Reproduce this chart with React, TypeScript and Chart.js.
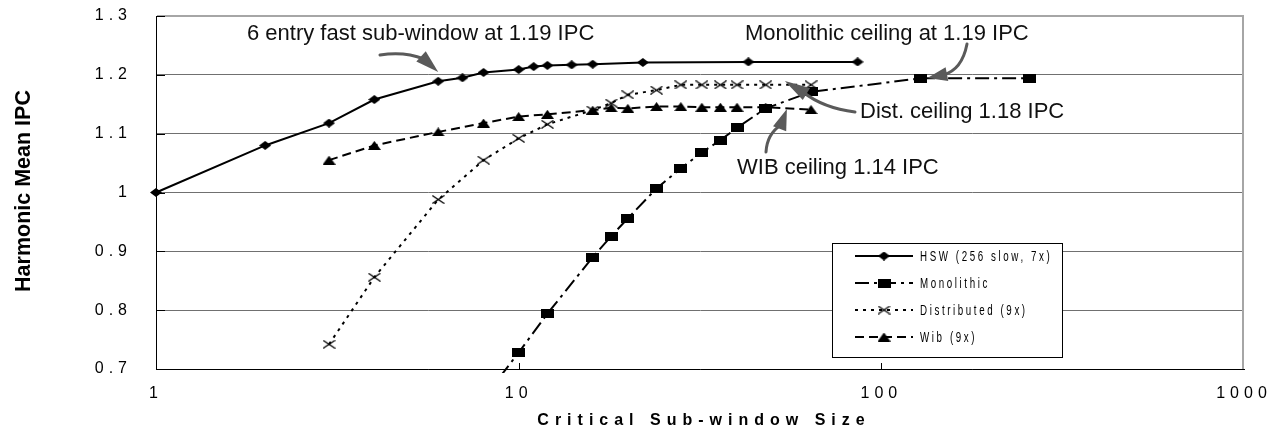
import { useEffect, useRef } from "react";
import { Chart, registerables } from "chart.js";

Chart.register(...registerables);

// Critical sub-window size (x, log scale) against harmonic mean IPC (y)
const hswSizes = [1, 2, 3, 4, 6, 7, 8, 10, 11, 12, 14, 16, 22, 43, 86];
const hswIpc = [1.0, 1.08, 1.118, 1.158, 1.189, 1.195, 1.204, 1.209, 1.214, 1.216, 1.217, 1.218, 1.221, 1.222, 1.222];

const monoSizes = [8, 10, 12, 16, 18, 20, 24, 28, 32, 36, 40, 48, 64, 128, 256];
const monoIpc = [0.65, 0.728, 0.794, 0.89, 0.926, 0.956, 1.007, 1.041, 1.068, 1.089, 1.11, 1.143, 1.171, 1.194, 1.194];

const distSizes = [3, 4, 6, 8, 10, 12, 16, 18, 20, 24, 28, 32, 36, 40, 48, 64];
const distIpc = [0.742, 0.856, 0.988, 1.055, 1.092, 1.116, 1.14, 1.152, 1.166, 1.174, 1.183, 1.183, 1.183, 1.183, 1.183, 1.183];

const wibSizes = [3, 4, 6, 8, 10, 12, 16, 18, 20, 24, 28, 32, 36, 40, 48, 64];
const wibIpc = [1.055, 1.08, 1.103, 1.118, 1.129, 1.133, 1.14, 1.144, 1.143, 1.146, 1.146, 1.145, 1.145, 1.145, 1.145, 1.141];

const xTickValues = [1, 10, 100, 1000];
const yTickValues = [0.7, 0.8, 0.9, 1.0, 1.1, 1.2, 1.3];

const seriesNames = ["HSW (256 slow, 7x)", "Monolithic", "Distributed (9x)", "Wib (9x)"];

// Callouts: text plus the (size, IPC) point each arrow points at
const callouts = [
  { text: "6 entry fast sub-window at 1.19 IPC", at: [6, 1.205] },
  { text: "Monolithic ceiling at 1.19 IPC", at: [134, 1.1946] },
  { text: "Dist. ceiling 1.18 IPC", at: [54.2, 1.1895] },
  { text: "WIB ceiling 1.14 IPC", at: [54.9, 1.142] },
];

const FONT = '"Liberation Sans", Arial, Helvetica, sans-serif';

function makeMarker(kind: string, w: number, h: number): HTMLCanvasElement {
  const c = document.createElement("canvas");
  c.width = w;
  c.height = h;
  const g = c.getContext("2d")!;
  g.fillStyle = "#000";
  g.strokeStyle = "#000";
  g.beginPath();
  if (kind === "diamond") {
    g.moveTo(w / 2, 0);
    g.lineTo(w, h / 2);
    g.lineTo(w / 2, h);
    g.lineTo(0, h / 2);
    g.closePath();
    g.fill();
  } else if (kind === "rect") {
    g.fillRect(0, 0, w, h);
  } else if (kind === "cross") {
    g.lineWidth = 1.3;
    g.moveTo(0.5, 0.5);
    g.lineTo(w - 0.5, h - 0.5);
    g.moveTo(w - 0.5, 0.5);
    g.lineTo(0.5, h - 0.5);
    g.stroke();
  } else {
    g.moveTo(w / 2, 0);
    g.lineTo(w, h);
    g.lineTo(0, h);
    g.closePath();
    g.fill();
  }
  return c;
}

function toPoints(xs: number[], ys: number[]) {
  return xs.map((x, i) => ({ x, y: ys[i] }));
}

function drawArrow(ctx: CanvasRenderingContext2D, sx: number, sy: number, cx: number, cy: number, ex: number, ey: number, tx: number, ty: number) {
  ctx.save();
  ctx.strokeStyle = "#5a5a5a";
  ctx.fillStyle = "#5a5a5a";
  ctx.lineWidth = 3;
  ctx.lineCap = "round";
  ctx.beginPath();
  ctx.moveTo(sx, sy);
  ctx.quadraticCurveTo(cx, cy, ex, ey);
  ctx.stroke();
  // arrow head from (ex, ey) to the tip
  const ang = Math.atan2(ty - ey, tx - ex);
  const len = Math.hypot(tx - ex, ty - ey) + 4;
  const half = 7;
  const bx = tx - Math.cos(ang) * len;
  const by = ty - Math.sin(ang) * len;
  ctx.beginPath();
  ctx.moveTo(tx, ty);
  ctx.lineTo(bx + Math.cos(ang + Math.PI / 2) * half, by + Math.sin(ang + Math.PI / 2) * half);
  ctx.lineTo(bx - Math.cos(ang + Math.PI / 2) * half, by - Math.sin(ang + Math.PI / 2) * half);
  ctx.closePath();
  ctx.fill();
  ctx.restore();
}

export default function App() {
  const ref = useRef<HTMLCanvasElement>(null);

  useEffect(() => {
    const markers = [
      makeMarker("diamond", 12, 9),
      makeMarker("rect", 13, 9),
      makeMarker("cross", 13, 9),
      makeMarker("triangle", 13, 9),
    ];
    const dashes = [[], [14, 5, 3, 5], [3, 5], [9, 5]];
    const widths = [2, 2, 2, 2];

    const extras = {
      id: "extras",
      beforeDraw(chart: any) {
        chart.ctx.letterSpacing = "0px";
      },
      beforeDatasetsDraw(chart: any) {
        const { ctx, chartArea: a, scales } = chart;
        ctx.save();
        // right frame edge
        ctx.strokeStyle = "#a6a6a6";
        ctx.lineWidth = 2;
        ctx.beginPath();
        ctx.moveTo(a.right - 1, a.top - 1);
        ctx.lineTo(a.right - 1, a.bottom);
        ctx.stroke();
        // inside tick marks
        ctx.strokeStyle = "#000";
        ctx.lineWidth = 1;
        ctx.beginPath();
        for (const v of yTickValues) {
          const y = Math.round(scales.y.getPixelForValue(v)) + 0.5;
          ctx.moveTo(a.left, y);
          ctx.lineTo(a.left + 9, y);
        }
        for (const v of xTickValues.slice(1, -1)) {
          const x = Math.round(scales.x.getPixelForValue(v)) + 0.5;
          ctx.moveTo(x, a.bottom);
          ctx.lineTo(x, a.bottom - 6);
        }
        ctx.stroke();
        ctx.restore();
      },
      afterDatasetsDraw(chart: any) {
        chart.ctx.letterSpacing = "5px";
      },
      afterDraw(chart: any) {
        const { ctx, scales } = chart;
        ctx.save();
        ctx.letterSpacing = "0px";

        // legend
        const lx = 832, ly = 243, lw = 230, lh = 114;
        ctx.fillStyle = "#fff";
        ctx.fillRect(lx, ly, lw, lh);
        ctx.strokeStyle = "#000";
        ctx.lineWidth = 1;
        ctx.strokeRect(lx + 0.5, ly + 0.5, lw, lh);
        const rows = [256, 283, 310, 337];
        seriesNames.forEach((name, i) => {
          const y = rows[i];
          ctx.save();
          ctx.strokeStyle = "#000";
          ctx.lineWidth = widths[i];
          ctx.setLineDash(dashes[i]);
          ctx.beginPath();
          ctx.moveTo(855, y);
          ctx.lineTo(913, y);
          ctx.stroke();
          ctx.restore();
          const m = markers[i];
          ctx.drawImage(m, 884 - m.width / 2, y - m.height / 2);
          // narrow, spaced legend lettering
          ctx.save();
          ctx.letterSpacing = "4px";
          ctx.fillStyle = "#000";
          ctx.font = `15px ${FONT}`;
          ctx.textBaseline = "middle";
          ctx.textAlign = "left";
          ctx.translate(920, y + 1);
          ctx.scale(0.65, 1);
          ctx.fillText(name, 0, 0);
          ctx.restore();
        });

        // callouts
        const px = (i: number) => [
          scales.x.getPixelForValue(callouts[i].at[0]),
          scales.y.getPixelForValue(callouts[i].at[1]),
        ];
        ctx.fillStyle = "#111";
        ctx.font = `22px ${FONT}`;
        ctx.textBaseline = "alphabetic";
        ctx.textAlign = "left";
        const [t0x, t0y] = px(0);
        ctx.fillText(callouts[0].text, 247, 40);
        drawArrow(ctx, 380, 55, 404, 51, 424, 59, t0x, t0y);
        const [t1x, t1y] = px(1);
        ctx.fillText(callouts[1].text, 745, 40);
        drawArrow(ctx, 967, 44, 962, 70, 943, 75, t1x, t1y);
        const [t2x, t2y] = px(2);
        ctx.fillText(callouts[2].text, 860, 118);
        drawArrow(ctx, 855, 112, 823, 108, 803, 92, t2x, t2y);
        const [t3x, t3y] = px(3);
        ctx.fillText(callouts[3].text, 737, 174);
        drawArrow(ctx, 766, 152, 767, 134, 781, 125, t3x, t3y);

        // axis titles
        ctx.fillStyle = "#000";
        ctx.font = `bold 16px ${FONT}`;
        ctx.textAlign = "center";
        ctx.textBaseline = "middle";
        ctx.letterSpacing = "6px";
        ctx.fillText("Critical Sub-window Size", 704, 421);
        ctx.letterSpacing = "0px";
        ctx.save();
        ctx.translate(24, 191);
        ctx.rotate(-Math.PI / 2);
        ctx.font = `bold 21.5px ${FONT}`;
        ctx.fillText("Harmonic Mean IPC", 0, 0);
        ctx.restore();

        ctx.restore();
      },
    };

    const series = [
      toPoints(hswSizes, hswIpc),
      toPoints(monoSizes, monoIpc),
      toPoints(distSizes, distIpc),
      toPoints(wibSizes, wibIpc),
    ];

    const chart = new Chart(ref.current!, {
      type: "scatter",
      data: {
        datasets: series.map((data, i) => ({
          label: seriesNames[i],
          data,
          showLine: true,
          borderColor: "#000",
          backgroundColor: "#000",
          borderWidth: widths[i],
          borderDash: dashes[i],
          pointStyle: markers[i],
          pointRadius: 6,
          tension: 0,
          clip: { left: 8, top: 8, right: 8, bottom: 4 },
        })),
      },
      options: {
        animation: false,
        responsive: false,
        events: [],
        layout: { padding: { top: 16, right: 37, bottom: 0, left: 0 } },
        plugins: { legend: { display: false }, tooltip: { enabled: false }, title: { display: false } },
        scales: {
          x: {
            type: "logarithmic",
            position: "bottom",
            min: 1,
            max: 1000,
            afterBuildTicks: (s: any) => {
              s.ticks = xTickValues.map((v) => ({ value: v }));
            },
            afterFit: (s: any) => {
              s.height = 73;
            },
            grid: {
              display: true,
              drawOnChartArea: false,
              drawTicks: true,
              tickLength: 15,
              tickColor: "rgba(0,0,0,0)",
            },
            border: { display: true, color: "#000", width: 1 },
            ticks: {
              z: 1,
              padding: 0,
              autoSkip: false,
              maxRotation: 0,
              color: "#000",
              font: { family: FONT, size: 16 },
              callback: (v: any) => String(v),
            },
          },
          y: {
            type: "linear",
            min: 0.7,
            max: 1.3,
            afterBuildTicks: (s: any) => {
              s.ticks = yTickValues.map((v) => ({ value: v }));
            },
            afterFit: (s: any) => {
              s.width = 156;
            },
            grid: {
              drawTicks: true,
              tickLength: 24,
              tickColor: "rgba(0,0,0,0)",
              color: (c: any) => (c.tick && c.tick.value > 1.25 ? "#a6a6a6" : "#707070"),
              lineWidth: (c: any) => (c.tick && c.tick.value > 1.25 ? 2 : 1),
            },
            border: { display: true, color: "#000", width: 1 },
            ticks: {
              z: 1,
              padding: 0,
              color: "#000",
              font: { family: FONT, size: 16 },
              callback: (v: any) => (Math.abs(v - 1) < 1e-9 ? "1" : Number(v).toFixed(1)),
            },
          },
        },
      },
      plugins: [extras],
    } as any);

    return () => chart.destroy();
  }, []);

  return (
    <div style={{ position: "fixed", left: 0, top: 0, width: 1281, height: 442, background: "#fff" }}>
      <canvas ref={ref} width={1281} height={442} style={{ display: "block", width: 1281, height: 442 }} />
    </div>
  );
}
